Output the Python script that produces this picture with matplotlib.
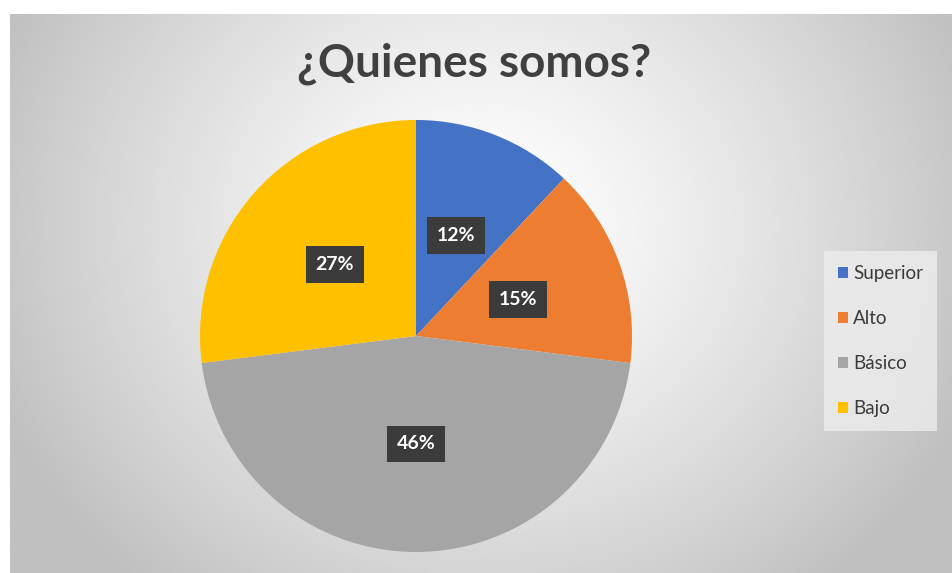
import numpy as np
import matplotlib
matplotlib.use('Agg')
import matplotlib.pyplot as plt

plt.rcParams['font.family'] = ['Lato', 'DejaVu Sans']

categories = ['Superior', 'Alto', 'Básico', 'Bajo']
values = [12, 15, 46, 27]
colors = ['#4472C4', '#ED7D31', '#A5A5A5', '#FFC000']
title = '¿Quienes somos?'

W, H = 953, 573
fig = plt.figure(figsize=(W / 100, H / 100), dpi=100)
fig.patch.set_facecolor('white')

# fondo con degradado radial (área del gráfico)
bg = fig.add_axes([10 / W, 0, 1 - 10 / W, 1 - 14 / H])
yy, xx = np.mgrid[0:200, 0:340]
cx, cy = 170, 75
d = np.sqrt(((xx - cx) / 190.0) ** 2 + ((yy - cy) / 170.0) ** 2)
d = np.clip(d, 0, 1)
shade = 1.0 - 0.25 * d ** 1.3
bg.imshow(shade, cmap='gray', vmin=0, vmax=1, aspect='auto',
          extent=[0, 1, 0, 1], origin='upper', interpolation='bilinear')
bg.set_axis_off()

# pastel
r = 216
cxp, cyp = 416, 336
ax = fig.add_axes([(cxp - r) / W, 1 - (cyp + r) / H, 2 * r / W, 2 * r / H])
wedges, texts, autotexts = ax.pie(
    values, colors=colors, startangle=90, counterclock=False,
    autopct='%1.0f%%', pctdistance=0.5, radius=1,
    wedgeprops=dict(linewidth=0),
    textprops=dict(color='white', fontsize=14, fontweight='bold'))
for t in autotexts:
    t.set_bbox(dict(boxstyle='square,pad=0.5', facecolor='#3b3b3b',
                    edgecolor='none'))
ax.set_xlim(-1, 1)
ax.set_ylim(-1, 1)
ax.set_aspect('equal')

fig.text(474 / W, 1 - 64 / H, title, ha='center', va='center',
         fontsize=33, fontweight='bold', color='#404040')

leg = fig.legend(wedges, categories, loc='center left',
                 bbox_to_anchor=(824 / W, 1 - 341 / H),
                 frameon=True, fontsize=13.5, handlelength=0.55,
                 handleheight=0.55, handletextpad=0.25, labelspacing=1.5,
                 borderpad=0.75, borderaxespad=0, labelcolor='#3a3a3a')
leg.get_frame().set_facecolor('#ededed')
leg.get_frame().set_edgecolor('none')
leg.get_frame().set_alpha(0.8)
leg.get_frame().set_boxstyle('square', pad=0)

fig.savefig('out.png', dpi=100)
